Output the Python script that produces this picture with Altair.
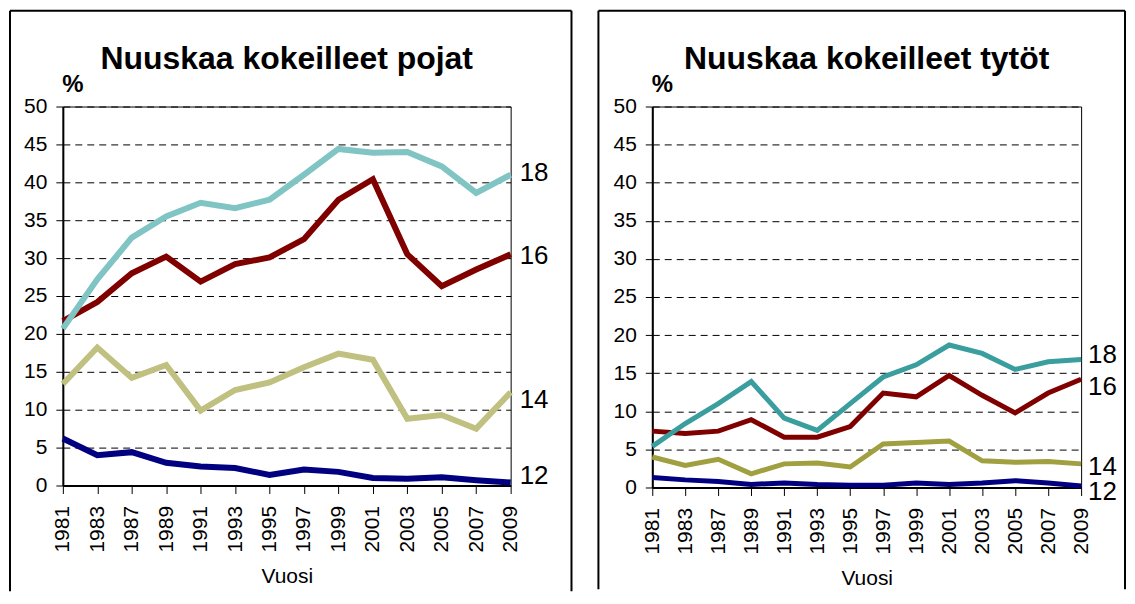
import altair as alt
import pandas as pd

FONT = "Liberation Sans"

years = ["1981", "1983", "1987", "1989", "1991", "1993", "1995",
         "1997", "1999", "2001", "2003", "2005", "2007", "2009"]
series = ["12", "14", "16", "18"]

# Pojat (boys), % who have tried snuff, by age
pojat_12 = [6.2, 4.0, 4.4, 3.0, 2.5, 2.3, 1.4, 2.1, 1.8, 1.0, 0.9, 1.1, 0.7, 0.4]
pojat_14 = [13.4, 18.2, 14.2, 15.9, 9.9, 12.6, 13.6, 15.6, 17.4, 16.6, 8.8, 9.3, 7.5, 12.3]
pojat_16 = [21.7, 24.2, 28.0, 30.2, 26.9, 29.2, 30.1, 32.5, 37.7, 40.4, 30.5, 26.3, 28.5, 30.5]
pojat_18 = [20.7, 27.2, 32.7, 35.5, 37.3, 36.6, 37.7, 41.0, 44.4, 43.9, 44.0, 42.1, 38.6, 41.0]

# Tytöt (girls)
tytot_12 = [1.3, 1.0, 0.8, 0.4, 0.6, 0.4, 0.3, 0.3, 0.6, 0.4, 0.6, 0.9, 0.6, 0.2]
tytot_14 = [4.0, 2.9, 3.7, 1.8, 3.1, 3.2, 2.7, 5.7, 5.9, 6.1, 3.5, 3.3, 3.4, 3.1]
tytot_16 = [7.4, 7.1, 7.4, 8.9, 6.6, 6.6, 8.0, 12.4, 11.9, 14.7, 12.1, 9.8, 12.4, 14.2]
tytot_18 = [5.4, 8.4, 11.0, 13.9, 9.1, 7.5, 11.0, 14.5, 16.1, 18.7, 17.6, 15.5, 16.5, 16.8]

# vertical positions (in %) of the age labels at the right end of each panel
labels_pojat = [1.2, 11.3, 30.3, 41.2]
labels_tytot = [-0.6, 2.7, 13.2, 17.4]

colors_pojat = ["#000080", "#C0C080", "#800000", "#80C4C4"]
colors_tytot = ["#000080", "#A0A040", "#800000", "#3A9E9E"]

y_ticks = list(range(0, 51, 5))


def panel(title, values, label_pos, colors, width, height, line_w,
          dx, frame_left, frame_right, frame_bottom):
    rows = []
    for s, arr in zip(series, values):
        for yr, v in zip(years, arr):
            rows.append({"Vuosi": yr, "arvo": v, "ika": s})
    df = pd.DataFrame(rows)
    lab = pd.DataFrame({"Vuosi": [years[-1]] * len(series),
                        "arvo": label_pos, "ika": series})

    x = alt.X("Vuosi:O",
              scale=alt.Scale(type="point", padding=0, domain=years),
              axis=alt.Axis(title="Vuosi", titleFontSize=21, titleFont=FONT,
                            titleFontWeight="normal", titleColor="black",
                            titlePadding=14, labelAngle=270, labelFontSize=21,
                            labelFont=FONT, labelColor="black", labelPadding=12,
                            labelOverlap=False, tickSize=8, tickColor="black",
                            tickWidth=1, domainColor="black", domainWidth=2,
                            grid=False))
    y = alt.Y("arvo:Q",
              scale=alt.Scale(domain=[0, 50], nice=False, zero=False),
              axis=alt.Axis(values=y_ticks, title="%", titleAngle=0,
                            titleAlign="left", titleBaseline="alphabetic",
                            titleX=-1, titleY=-15, titleFontSize=24,
                            titleFont=FONT, titleFontWeight="bold",
                            titleColor="black", labelFontSize=21,
                            labelFont=FONT, labelColor="black",
                            labelPadding=9, tickSize=7, tickColor="black",
                            domainColor="black", domainWidth=2, grid=True,
                            gridColor="black", gridDash=[7, 5], gridWidth=1,
                            gridOpacity=1))
    color = alt.Color("ika:N", scale=alt.Scale(domain=series, range=colors),
                      legend=None)

    lines = alt.Chart(df).mark_line(strokeWidth=line_w).encode(
        x=x, y=y, color=color)
    text = alt.Chart(lab).mark_text(
        align="left", baseline="middle", dx=dx, fontSize=26, font=FONT,
        color="black").encode(x=x, y=y, text="ika:N")

    head = alt.Chart(pd.DataFrame({"t": [title]})).mark_text(
        align="center", baseline="alphabetic", fontSize=32, font=FONT,
        fontWeight="bold", color="black").encode(
        x=alt.value(width / 2), y=alt.value(-38), text="t:N")

    one = pd.DataFrame({"k": [0]})
    top = alt.Chart(one).mark_rule(color="black", strokeWidth=2).encode(
        x=alt.value(frame_left), x2=alt.value(frame_right), y=alt.value(-96))
    left = alt.Chart(one).mark_rule(color="black", strokeWidth=2).encode(
        x=alt.value(frame_left), y=alt.value(-96), y2=alt.value(frame_bottom))
    right = alt.Chart(one).mark_rule(color="black", strokeWidth=2).encode(
        x=alt.value(frame_right), y=alt.value(-96), y2=alt.value(frame_bottom))

    return alt.layer(lines, text, head, top, left, right).properties(
        width=width, height=height)


left_panel = panel("Nuuskaa kokeilleet pojat",
                   [pojat_12, pojat_14, pojat_16, pojat_18],
                   labels_pojat, colors_pojat, 449, 380, 6, 9,
                   -53, 510, 486)
right_panel = panel("Nuuskaa kokeilleet tytöt",
                    [tytot_12, tytot_14, tytot_16, tytot_18],
                    labels_tytot, colors_tytot, 430, 382, 5, 7,
                    -54, 474, 484)

chart = alt.hconcat(left_panel, right_panel, spacing=23).resolve_scale(
    color="independent"
).properties(
    padding=0, background="white"
).configure_view(stroke="black", strokeWidth=1)

chart.save("out.html", embed_options={"renderer": "svg", "actions": False})
